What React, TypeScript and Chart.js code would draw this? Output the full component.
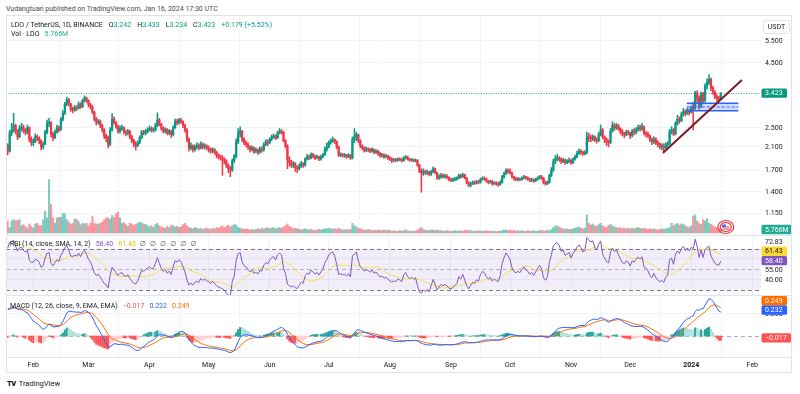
import React, { useEffect, useRef } from 'react';
import { Chart, registerables } from 'chart.js';

Chart.register(...registerables);

const FONT = 'Roboto, "Noto Sans", "DejaVu Sans", sans-serif';
const FS = 7;
const UP = '#089981';
const DOWN = '#F23645';
const GRID = '#f0f3fa';
const TXT = '#131722';

// ---- data (daily candles, day index counted from 2023-02-01) ----
const firstDay = -13; // 2023-01-19
const firstOpen = 2.12;
const lastOpen = 3.242;

const closesJan23 = [2.02, 2.38, 2.45, 2.55, 2.42, 2.30, 2.48, 2.52, 2.44, 2.40, 2.50, 2.25, 2.18];
const closesFeb = [2.20, 2.30, 2.28, 2.22, 2.10, 2.15, 2.40, 2.60, 2.62, 2.35, 2.28, 2.40, 2.50, 2.45, 2.70, 2.85, 3.10, 3.22, 3.10, 2.95, 2.93, 3.00, 2.98, 3.10, 3.02, 3.20, 3.28, 3.20];
const closesMar = [3.08, 3.02, 2.88, 2.70, 2.62, 2.65, 2.55, 2.45, 2.32, 2.28, 2.15, 2.45, 2.70, 2.62, 2.52, 2.42, 2.48, 2.50, 2.40, 2.38, 2.42, 2.30, 2.22, 2.15, 2.12, 2.18, 2.28, 2.40, 2.38, 2.42, 2.45];
const closesApr = [2.48, 2.44, 2.45, 2.55, 2.68, 2.58, 2.48, 2.42, 2.46, 2.38, 2.42, 2.35, 2.50, 2.65, 2.62, 2.68, 2.64, 2.55, 2.45, 2.25, 2.08, 2.12, 2.05, 2.10, 2.12, 2.08, 2.15, 2.10, 2.12, 2.08];
const closesMay = [2.06, 2.02, 2.05, 2.00, 1.95, 1.92, 1.90, 1.88, 1.85, 1.78, 1.72, 1.70, 1.85, 1.92, 2.20, 2.38, 2.42, 2.25, 2.18, 2.15, 2.10, 2.05, 2.08, 2.02, 2.04, 2.00, 2.06, 2.05, 2.15, 2.20, 2.18];
const closesJun = [2.25, 2.30, 2.32, 2.28, 2.38, 2.42, 2.40, 2.22, 2.12, 1.86, 1.82, 1.78, 1.80, 1.74, 1.72, 1.76, 1.80, 1.78, 1.88, 1.92, 1.90, 1.96, 1.93, 1.90, 1.92, 1.88, 1.92, 1.95, 2.05, 2.10];
const closesJul = [2.18, 2.22, 2.24, 2.20, 2.10, 1.95, 1.96, 1.94, 1.95, 1.92, 1.95, 1.90, 2.25, 2.30, 2.35, 2.22, 2.12, 2.08, 2.04, 2.06, 2.05, 2.02, 2.05, 2.00, 2.02, 1.98, 1.94, 1.95, 1.92, 1.93, 1.90];
const closesAug = [1.88, 1.86, 1.87, 1.86, 1.88, 1.87, 1.85, 1.90, 1.92, 1.88, 1.86, 1.87, 1.85, 1.86, 1.78, 1.68, 1.66, 1.68, 1.66, 1.67, 1.64, 1.68, 1.72, 1.66, 1.58, 1.60, 1.62, 1.60, 1.61, 1.59, 1.56];
const closesSep = [1.55, 1.56, 1.57, 1.58, 1.62, 1.60, 1.63, 1.58, 1.52, 1.48, 1.50, 1.52, 1.51, 1.53, 1.52, 1.56, 1.58, 1.57, 1.54, 1.52, 1.53, 1.50, 1.51, 1.50, 1.49, 1.52, 1.60, 1.65, 1.70, 1.68];
const closesOct = [1.66, 1.60, 1.57, 1.56, 1.57, 1.56, 1.58, 1.60, 1.58, 1.57, 1.55, 1.56, 1.54, 1.56, 1.58, 1.60, 1.58, 1.52, 1.50, 1.52, 1.62, 1.70, 1.84, 1.88, 1.90, 1.88, 1.84, 1.86, 1.82, 1.84, 1.86];
const closesNov = [1.82, 1.88, 1.92, 1.98, 2.02, 2.00, 1.97, 1.99, 2.30, 2.28, 2.26, 2.30, 2.24, 2.22, 2.35, 2.45, 2.30, 2.25, 2.20, 2.18, 2.42, 2.55, 2.50, 2.55, 2.48, 2.42, 2.36, 2.34, 2.40, 2.38];
const closesDec = [2.32, 2.42, 2.40, 2.46, 2.50, 2.48, 2.52, 2.38, 2.36, 2.32, 2.24, 2.20, 2.26, 2.18, 2.15, 2.10, 2.12, 2.08, 2.14, 2.16, 2.42, 2.45, 2.36, 2.60, 2.70, 2.66, 2.82, 2.90, 2.84, 2.92, 2.88];
const closesJan24 = [3.00, 2.98, 3.42, 3.28, 3.05, 3.40, 3.20, 3.65, 3.78, 3.88, 3.58, 3.45, 3.32, 3.26, 3.244, 3.423];

const highsJan23 = [2.16, 2.44, 2.60, 2.85, 2.58, 2.46, 2.55, 2.60, 2.56, 2.48, 2.56, 2.52, 2.30];
const highsFeb = [2.26, 2.36, 2.34, 2.30, 2.24, 2.20, 2.44, 2.68, 2.72, 2.64, 2.40, 2.45, 2.56, 2.54, 2.74, 2.92, 3.15, 3.30, 3.26, 3.12, 3.02, 3.06, 3.05, 3.16, 3.14, 3.24, 3.34, 3.30];
const highsMar = [3.22, 3.12, 3.06, 2.90, 2.74, 2.70, 2.68, 2.58, 2.48, 2.36, 2.32, 2.50, 2.84, 2.76, 2.64, 2.56, 2.54, 2.56, 2.52, 2.44, 2.46, 2.44, 2.33, 2.25, 2.20, 2.22, 2.32, 2.44, 2.44, 2.46, 2.50];
const highsApr = [2.54, 2.52, 2.50, 2.60, 2.86, 2.72, 2.60, 2.52, 2.50, 2.48, 2.46, 2.44, 2.54, 2.70, 2.70, 2.72, 2.72, 2.66, 2.58, 2.48, 2.28, 2.18, 2.14, 2.14, 2.18, 2.16, 2.20, 2.18, 2.16, 2.14];
const highsMay = [2.12, 2.08, 2.08, 2.07, 2.02, 1.97, 1.95, 1.94, 1.90, 1.87, 1.80, 1.76, 1.88, 1.96, 2.26, 2.48, 2.52, 2.44, 2.28, 2.22, 2.18, 2.12, 2.12, 2.10, 2.08, 2.06, 2.10, 2.10, 2.18, 2.24, 2.24];
const highsJun = [2.28, 2.34, 2.36, 2.34, 2.42, 2.48, 2.46, 2.42, 2.24, 2.14, 1.92, 1.86, 1.84, 1.82, 1.77, 1.80, 1.84, 1.82, 1.90, 1.96, 1.95, 1.99, 1.98, 1.95, 1.95, 1.93, 1.95, 1.98, 2.10, 2.18];
const highsJul = [2.22, 2.26, 2.30, 2.26, 2.22, 2.12, 1.99, 1.98, 1.98, 1.96, 1.97, 1.96, 2.30, 2.48, 2.40, 2.36, 2.24, 2.14, 2.10, 2.10, 2.08, 2.07, 2.08, 2.06, 2.05, 2.04, 2.00, 1.98, 1.97, 1.96, 1.95];
const highsAug = [1.92, 1.90, 1.89, 1.89, 1.90, 1.90, 1.89, 1.92, 1.94, 1.93, 1.89, 1.89, 1.88, 1.88, 1.87, 1.79, 1.72, 1.72, 1.70, 1.70, 1.68, 1.70, 1.75, 1.73, 1.67, 1.63, 1.65, 1.64, 1.64, 1.63, 1.60];
const highsSep = [1.58, 1.58, 1.59, 1.60, 1.64, 1.64, 1.65, 1.64, 1.59, 1.53, 1.52, 1.54, 1.54, 1.55, 1.55, 1.58, 1.60, 1.60, 1.58, 1.55, 1.55, 1.55, 1.53, 1.53, 1.52, 1.54, 1.62, 1.67, 1.72, 1.72];
const highsOct = [1.72, 1.67, 1.61, 1.59, 1.59, 1.58, 1.60, 1.62, 1.61, 1.60, 1.58, 1.58, 1.57, 1.58, 1.60, 1.62, 1.62, 1.59, 1.54, 1.54, 1.64, 1.74, 1.88, 1.94, 1.96, 1.92, 1.90, 1.89, 1.88, 1.87, 1.90];
const highsNov = [1.88, 1.90, 1.95, 2.02, 2.06, 2.05, 2.02, 2.03, 2.40, 2.38, 2.34, 2.34, 2.32, 2.28, 2.40, 2.56, 2.48, 2.32, 2.28, 2.24, 2.48, 2.64, 2.60, 2.60, 2.58, 2.50, 2.46, 2.40, 2.44, 2.44];
const highsDec = [2.40, 2.46, 2.48, 2.50, 2.56, 2.56, 2.60, 2.54, 2.42, 2.40, 2.34, 2.28, 2.30, 2.28, 2.22, 2.18, 2.16, 2.16, 2.18, 2.20, 2.46, 2.52, 2.48, 2.64, 2.80, 2.76, 2.88, 2.98, 2.94, 2.98, 2.96];
const highsJan24 = [3.05, 3.15, 3.48, 3.50, 3.35, 3.46, 3.45, 3.72, 3.90, 4.05, 3.92, 3.65, 3.50, 3.38, 3.33, 3.433];

const lowsJan23 = [1.95, 2.00, 2.32, 2.40, 2.36, 2.24, 2.28, 2.42, 2.38, 2.34, 2.36, 2.20, 2.12];
const lowsFeb = [2.12, 2.18, 2.22, 2.16, 2.04, 2.06, 2.14, 2.36, 2.52, 2.30, 2.22, 2.26, 2.38, 2.40, 2.44, 2.66, 2.82, 3.05, 3.04, 2.90, 2.86, 2.90, 2.92, 2.96, 2.98, 3.00, 3.16, 3.14];
const lowsMar = [3.02, 2.96, 2.84, 2.66, 2.56, 2.58, 2.50, 2.40, 2.26, 2.20, 2.08, 2.12, 2.42, 2.58, 2.48, 2.38, 2.38, 2.44, 2.36, 2.32, 2.34, 2.26, 2.18, 2.10, 2.04, 2.10, 2.16, 2.26, 2.34, 2.34, 2.38];
const lowsApr = [2.42, 2.40, 2.40, 2.42, 2.52, 2.54, 2.44, 2.38, 2.38, 2.34, 2.34, 2.28, 2.32, 2.48, 2.56, 2.58, 2.60, 2.50, 2.40, 2.20, 2.02, 2.04, 2.00, 2.02, 2.06, 2.04, 2.06, 2.06, 2.06, 2.04];
const lowsMay = [2.00, 1.98, 1.99, 1.96, 1.90, 1.88, 1.86, 1.62, 1.80, 1.74, 1.66, 1.60, 1.68, 1.82, 1.90, 2.16, 2.30, 2.20, 2.14, 2.10, 2.05, 2.00, 2.02, 1.98, 1.99, 1.96, 1.98, 2.00, 2.02, 2.12, 2.12];
const lowsJun = [2.16, 2.22, 2.27, 2.24, 2.26, 2.36, 2.36, 2.20, 2.08, 1.72, 1.76, 1.74, 1.74, 1.68, 1.66, 1.70, 1.74, 1.74, 1.76, 1.86, 1.87, 1.88, 1.90, 1.87, 1.88, 1.85, 1.86, 1.90, 1.94, 2.02];
const lowsJul = [2.08, 2.15, 2.19, 2.16, 2.06, 1.92, 1.92, 1.91, 1.91, 1.89, 1.90, 1.87, 1.88, 2.18, 2.22, 2.18, 2.08, 2.04, 2.00, 2.01, 2.01, 1.99, 2.00, 1.97, 1.98, 1.94, 1.91, 1.91, 1.89, 1.90, 1.87];
const lowsAug = [1.85, 1.82, 1.84, 1.83, 1.84, 1.85, 1.83, 1.84, 1.88, 1.86, 1.84, 1.84, 1.83, 1.83, 1.76, 1.66, 1.39, 1.62, 1.63, 1.63, 1.61, 1.62, 1.66, 1.64, 1.56, 1.56, 1.58, 1.58, 1.58, 1.57, 1.54];
const lowsSep = [1.53, 1.53, 1.54, 1.55, 1.57, 1.58, 1.59, 1.57, 1.50, 1.46, 1.46, 1.49, 1.49, 1.50, 1.50, 1.51, 1.55, 1.55, 1.52, 1.50, 1.51, 1.48, 1.49, 1.48, 1.47, 1.48, 1.51, 1.58, 1.63, 1.65];
const lowsOct = [1.64, 1.58, 1.55, 1.54, 1.54, 1.54, 1.55, 1.57, 1.56, 1.55, 1.53, 1.53, 1.52, 1.53, 1.55, 1.57, 1.56, 1.50, 1.48, 1.49, 1.51, 1.60, 1.68, 1.80, 1.85, 1.84, 1.80, 1.82, 1.79, 1.80, 1.82];
const lowsNov = [1.79, 1.80, 1.86, 1.90, 1.96, 1.96, 1.94, 1.95, 1.97, 2.20, 2.20, 2.22, 2.20, 2.17, 2.20, 2.32, 2.26, 2.18, 2.12, 2.10, 2.16, 2.40, 2.44, 2.46, 2.44, 2.36, 2.32, 2.28, 2.32, 2.34];
const lowsDec = [2.26, 2.30, 2.34, 2.36, 2.42, 2.42, 2.44, 2.34, 2.30, 2.28, 2.20, 2.14, 2.16, 2.14, 2.10, 2.06, 2.04, 2.00, 2.05, 2.10, 2.14, 2.36, 2.32, 2.34, 2.56, 2.60, 2.64, 2.78, 2.78, 2.82, 2.80];
const lowsJan24 = [2.85, 2.45, 2.95, 3.15, 2.95, 3.00, 3.10, 3.15, 3.55, 3.70, 3.50, 3.38, 3.25, 3.18, 3.20, 3.234];

// volume in millions of LDO
const volJan23 = [20, 9, 20, 22, 20, 21, 22, 12, 14, 11, 8, 15, 11];
const volFeb = [8, 15, 16, 12, 12, 22, 36, 25, 88, 47, 25, 16, 25, 26, 26, 32, 32, 22, 18, 15, 16, 23, 23, 19, 14, 16, 15, 16];
const volMar = [12, 16, 28, 16, 15, 15, 16, 18, 22, 25, 25, 23, 29, 26, 32, 34, 25, 16, 17, 14, 11, 16, 15, 13, 14, 16, 18, 17, 15, 14, 12];
const volApr = [10, 12, 9, 14, 16, 12, 10, 9, 8, 11, 9, 13, 12, 10, 11, 9, 10, 14, 16, 12, 9, 8, 7, 9, 8, 7, 8, 6, 7, 8];
const volMay = [7, 6, 8, 7, 9, 8, 10, 12, 9, 11, 13, 10, 12, 14, 13, 9, 8, 7, 6, 7, 6, 5, 6, 5, 6, 7, 6, 8, 7, 8, 9];
const volJun = [7, 8, 9, 7, 8, 9, 8, 10, 12, 15, 11, 9, 7, 8, 7, 6, 5, 6, 7, 6, 5, 6, 5, 4, 5, 6, 5, 6, 7, 7];
const volJul = [8, 7, 6, 7, 6, 8, 6, 5, 5, 6, 5, 6, 16, 12, 10, 8, 7, 6, 5, 5, 6, 5, 4, 5, 4, 5, 5, 4, 5, 4, 5];
const volAug = [4, 3, 4, 3, 3, 4, 3, 4, 5, 4, 3, 3, 3, 3, 5, 7, 9, 6, 5, 4, 4, 5, 5, 4, 5, 4, 4, 3, 3, 4, 3];
const volSep = [3, 3, 4, 3, 3, 4, 3, 4, 5, 4, 4, 3, 3, 3, 4, 3, 3, 3, 4, 3, 3, 3, 3, 2, 3, 3, 4, 5, 5, 4];
const volOct = [5, 4, 4, 3, 4, 3, 4, 3, 3, 4, 3, 3, 4, 3, 3, 4, 4, 4, 3, 5, 4, 6, 9, 12, 11, 10, 8, 7, 6, 7, 6];
const volNov = [6, 7, 8, 9, 10, 8, 7, 8, 30, 16, 13, 15, 12, 11, 14, 16, 12, 10, 9, 13, 14, 12, 10, 9, 8, 9, 7, 8, 7, 8];
const volDec = [7, 8, 7, 8, 9, 8, 7, 8, 7, 6, 7, 6, 7, 6, 5, 6, 7, 6, 7, 8, 9, 16, 12, 14, 16, 13, 15, 14, 12, 10, 9];
const volJan24 = [12, 28, 30, 20, 16, 14, 22, 20, 24, 16, 14, 12, 10, 9, 8, 5.766];

const closes = [...closesJan23, ...closesFeb, ...closesMar, ...closesApr, ...closesMay, ...closesJun, ...closesJul, ...closesAug, ...closesSep, ...closesOct, ...closesNov, ...closesDec, ...closesJan24];
const highs = [...highsJan23, ...highsFeb, ...highsMar, ...highsApr, ...highsMay, ...highsJun, ...highsJul, ...highsAug, ...highsSep, ...highsOct, ...highsNov, ...highsDec, ...highsJan24];
const lows = [...lowsJan23, ...lowsFeb, ...lowsMar, ...lowsApr, ...lowsMay, ...lowsJun, ...lowsJul, ...lowsAug, ...lowsSep, ...lowsOct, ...lowsNov, ...lowsDec, ...lowsJan24];
const volumes = [...volJan23, ...volFeb, ...volMar, ...volApr, ...volMay, ...volJun, ...volJul, ...volAug, ...volSep, ...volOct, ...volNov, ...volDec, ...volJan24];

const monthTickDays = [0, 28, 59, 89, 120, 150, 181, 212, 242, 273, 303, 334, 365];
const monthTickLabels = ['Feb', 'Mar', 'Apr', 'May', 'Jun', 'Jul', 'Aug', 'Sep', 'Oct', 'Nov', 'Dec', '2024', 'Feb'];
const priceTicks = [5.5, 4.5, 2.5, 2.1, 1.7, 1.4, 1.15];
const rsiTickValues = [72.83, 55, 40];
const rsiGridValues = [60, 40];
const macdTickValues = [0.2];

// indicator values shown in the legends / scale labels
const rsiLast = 58.4;
const rsiMaLast = 61.43;
const macdLast = 0.232;
const signalLast = 0.249;
const histLast = -0.017;

// indicator warm-up state before the first visible candle
const rsiSeed = { prevClose: 2.12, avgGain: 0.09, avgLoss: 0.03, maHistory: 75 };
const macdSeed = { ema12: 2.1, ema26: 1.84, signal: 0.25 };

// drawings (day index, price)
const trendLine = [{ x: 319.6, y: 1.986 }, { x: 359.7, y: 3.855 }];
const zoneBox = { x0: 331.7, x1: 357.9, top: 3.12, bottom: 2.916 };
const eventDay = 351.5;

const X_MIN = -13.86;
const X_MAX = 369.4;

// ---- derived ----
const days = closes.map((_, i) => firstDay + i);
const opens = closes.map((c, i) => (i === 0 ? firstOpen : i === closes.length - 1 ? lastOpen : closes[i - 1]));

function indicators() {
  const n = closes.length;
  const rsi: number[] = [];
  let ag = rsiSeed.avgGain;
  let al = rsiSeed.avgLoss;
  for (let i = 0; i < n; i++) {
    const prev = i === 0 ? rsiSeed.prevClose : closes[i - 1];
    const ch = closes[i] - prev;
    ag = (ag * 13 + Math.max(ch, 0)) / 14;
    al = (al * 13 + Math.max(-ch, 0)) / 14;
    rsi.push(al === 0 ? 100 : 100 - 100 / (1 + ag / al));
  }
  const rsiMa = rsi.map((_, i) => {
    let s = 0;
    for (let k = i - 13; k <= i; k++) s += k < 0 ? rsiSeed.maHistory : rsi[k];
    return s / 14;
  });
  let e12 = macdSeed.ema12;
  let e26 = macdSeed.ema26;
  let sig = macdSeed.signal;
  const macd: number[] = [];
  const signal: number[] = [];
  const hist: number[] = [];
  for (let i = 0; i < n; i++) {
    e12 += (2 / 13) * (closes[i] - e12);
    e26 += (2 / 27) * (closes[i] - e26);
    const m = e12 - e26;
    sig += (2 / 10) * (m - sig);
    macd.push(m);
    signal.push(sig);
    hist.push(m - sig);
  }
  return { rsi, rsiMa, macd, signal, hist };
}

type AxisItem = { scale: string; value: number; text: string; bg?: string; fg?: string; push: boolean };

function makeAxisPlugin(items: AxisItem[]) {
  return {
    id: 'axisLabels',
    afterDraw(chart: any) {
      const ctx = chart.ctx;
      const right = chart.chartArea.right;
      const H = 9.4;
      ctx.save();
      ctx.font = `${FS}px ${FONT}`;
      ctx.textBaseline = 'middle';
      ctx.textAlign = 'left';
      const placed: { y: number; it: AxisItem }[] = [];
      for (const it of items) {
        const desired = chart.scales[it.scale].getPixelForValue(it.value);
        let y = desired;
        if (it.push) {
          for (let iter = 0; iter < 8; iter++) {
            let moved = false;
            for (const p of placed) {
              if (!p.it.push && !p.it.bg) continue;
              if (Math.abs(y - p.y) < H - 0.01) {
                y = desired < p.y ? p.y - H : p.y + H;
                moved = true;
              }
            }
            if (!moved) break;
          }
        }
        placed.push({ y, it });
      }
      const ordered = [...placed.filter((p) => !p.it.bg), ...placed.filter((p) => p.it.bg)];
      for (const p of ordered) {
        const w = ctx.measureText(p.it.text).width;
        if (p.it.bg) {
          ctx.fillStyle = p.it.bg;
          ctx.beginPath();
          if (ctx.roundRect) ctx.roundRect(right + 0.5, p.y - 4.7, w + 8, 9.4, 1.5);
          else ctx.rect(right + 0.5, p.y - 4.7, w + 8, 9.4);
          ctx.fill();
        }
        ctx.fillStyle = p.it.fg || TXT;
        ctx.fillText(p.it.text, right + 4, p.y + 0.5);
      }
      ctx.restore();
    },
  };
}

const xScaleHidden = {
  type: 'linear',
  min: X_MIN,
  max: X_MAX,
  offset: false,
  grid: { color: GRID, drawTicks: false, lineWidth: 1 },
  border: { display: false },
  ticks: { display: false },
  afterBuildTicks: (s: any) => {
    s.ticks = monthTickDays.map((v) => ({ value: v }));
  },
  afterFit: (s: any) => {
    s.height = 0;
  },
};

export default function App() {
  const priceRef = useRef<HTMLCanvasElement>(null);
  const rsiRef = useRef<HTMLCanvasElement>(null);
  const macdRef = useRef<HTMLCanvasElement>(null);

  useEffect(() => {
    document.body.style.margin = '0';
    const ind = indicators();
    const n = closes.length;
    const candleColors = closes.map((c, i) => (c >= opens[i] ? UP : DOWN));
    const volColors = closes.map((c, i) => (c >= opens[i] ? 'rgba(8,153,129,0.5)' : 'rgba(242,54,69,0.5)'));

    const bodyData = days.map((d, i) => {
      let lo = Math.min(opens[i], closes[i]);
      let hi = Math.max(opens[i], closes[i]);
      if (hi / lo < 1.004) hi = lo * 1.004;
      return { x: d, y: [lo, hi] };
    });
    const wickData = days.map((d, i) => ({
      x: d,
      y: [Math.min(lows[i], opens[i], closes[i]), Math.max(highs[i], opens[i], closes[i])],
    }));
    const volData = days.map((d, i) => ({ x: d, y: volumes[i] }));

    const lastClose = closes[n - 1];

    const priceDecor = {
      id: 'priceDecor',
      beforeDatasetsDraw(chart: any) {
        const { ctx, chartArea } = chart;
        const y = chart.scales.y.getPixelForValue(lastClose);
        ctx.save();
        ctx.strokeStyle = 'rgba(8,153,129,0.85)';
        ctx.lineWidth = 1;
        ctx.setLineDash([1, 1.5]);
        ctx.beginPath();
        ctx.moveTo(chartArea.left, Math.round(y) + 0.5);
        ctx.lineTo(chartArea.right, Math.round(y) + 0.5);
        ctx.stroke();
        ctx.restore();
      },
      afterDatasetsDraw(chart: any) {
        const { ctx, chartArea } = chart;
        const xs = chart.scales.x;
        const ys = chart.scales.y;
        ctx.save();
        // zone rectangle
        const x0 = xs.getPixelForValue(zoneBox.x0);
        const x1 = xs.getPixelForValue(zoneBox.x1);
        const yt = ys.getPixelForValue(zoneBox.top);
        const yb = ys.getPixelForValue(zoneBox.bottom);
        ctx.fillStyle = 'rgba(41,98,255,0.22)';
        ctx.fillRect(x0, yt, x1 - x0, yb - yt);
        ctx.strokeStyle = '#2962FF';
        ctx.lineWidth = 1.5;
        ctx.beginPath();
        ctx.moveTo(x0, yt);
        ctx.lineTo(x1, yt);
        ctx.moveTo(x0, yb);
        ctx.lineTo(x1, yb);
        ctx.stroke();
        ctx.lineWidth = 1;
        ctx.setLineDash([3, 2]);
        ctx.beginPath();
        ctx.moveTo(x0, (yt + yb) / 2);
        ctx.lineTo(x1, (yt + yb) / 2);
        ctx.stroke();
        ctx.setLineDash([]);
        // trend line
        ctx.strokeStyle = '#7a1a24';
        ctx.lineWidth = 2;
        ctx.beginPath();
        ctx.moveTo(xs.getPixelForValue(trendLine[0].x), ys.getPixelForValue(trendLine[0].y));
        ctx.lineTo(xs.getPixelForValue(trendLine[1].x), ys.getPixelForValue(trendLine[1].y));
        ctx.stroke();
        // economic event marker
        const ex = xs.getPixelForValue(eventDay);
        const ey = chartArea.bottom - 8;
        ctx.strokeStyle = DOWN;
        ctx.lineWidth = 1.2;
        ctx.beginPath();
        ctx.ellipse(ex, ey, 8, 6.5, 0, 0, Math.PI * 2);
        ctx.stroke();
        ctx.beginPath();
        ctx.ellipse(ex, ey, 5.5, 4.5, 0, 0, Math.PI * 2);
        ctx.stroke();
        ctx.fillStyle = '#ffffff';
        ctx.fillRect(ex - 3.5, ey - 2.5, 7, 5);
        ctx.fillStyle = DOWN;
        ctx.fillRect(ex - 3.5, ey - 0.5, 7, 1);
        ctx.fillRect(ex - 3.5, ey + 1.5, 7, 1);
        ctx.fillStyle = '#2962FF';
        ctx.fillRect(ex - 3.5, ey - 2.5, 3.5, 2.5);
        ctx.restore();
      },
      afterDraw(chart: any) {
        const { ctx, chartArea } = chart;
        const r = chartArea.right;
        ctx.save();
        ctx.strokeStyle = '#e0e3eb';
        ctx.lineWidth = 1;
        ctx.beginPath();
        if (ctx.roundRect) ctx.roundRect(r + 2.5, 5.5, 26, 13, 2);
        else ctx.rect(r + 2.5, 5.5, 26, 13);
        ctx.fillStyle = '#ffffff';
        ctx.fill();
        ctx.stroke();
        ctx.fillStyle = TXT;
        ctx.font = `${FS}px ${FONT}`;
        ctx.textAlign = 'center';
        ctx.textBaseline = 'middle';
        ctx.fillText('USDT', r + 15.5, 12.5);
        ctx.restore();
      },
    };

    const priceItems: AxisItem[] = [
      { scale: 'y', value: lastClose, text: lastClose.toFixed(3), bg: UP, fg: '#ffffff', push: false },
      { scale: 'yv', value: volumes[n - 1], text: volumes[n - 1].toFixed(3) + 'M', bg: '#22ab94', fg: '#ffffff', push: false },
      ...priceTicks.map((v) => ({ scale: 'y', value: v, text: v.toFixed(3), push: false })),
    ];

    const price = new Chart(priceRef.current as HTMLCanvasElement, {
      type: 'bar',
      data: {
        datasets: [
          { type: 'bar', data: bodyData, backgroundColor: candleColors, barThickness: 1.6, grouped: false, order: 0, yAxisID: 'y', borderWidth: 0 } as any,
          { type: 'bar', data: wickData, backgroundColor: candleColors, barThickness: 0.9, grouped: false, order: 1, yAxisID: 'y', borderWidth: 0 } as any,
          { type: 'bar', data: volData, backgroundColor: volColors, barThickness: 1.5, grouped: false, order: 2, yAxisID: 'yv', borderWidth: 0 } as any,
        ],
      },
      options: {
        responsive: false,
        animation: false,
        events: [],
        layout: { padding: 0 },
        plugins: { legend: { display: false }, tooltip: { enabled: false } },
        scales: {
          x: xScaleHidden as any,
          y: {
            type: 'logarithmic',
            position: 'right',
            min: 0.942,
            max: 6.962,
            grid: { color: GRID, drawTicks: false },
            border: { display: false },
            ticks: { display: false },
            afterBuildTicks: (s: any) => {
              s.ticks = priceTicks.map((v) => ({ value: v }));
            },
            afterFit: (s: any) => {
              s.width = 31;
            },
          } as any,
          yv: { type: 'linear', display: false, min: -3.3, max: 360 } as any,
        },
      },
      plugins: [priceDecor, makeAxisPlugin(priceItems)],
    });

    const rsiDecor = {
      id: 'rsiDecor',
      beforeDatasetsDraw(chart: any) {
        const { ctx, chartArea } = chart;
        const ys = chart.scales.y;
        const y70 = ys.getPixelForValue(70);
        const y50 = ys.getPixelForValue(50);
        const y30 = ys.getPixelForValue(30);
        ctx.save();
        ctx.fillStyle = 'rgba(126,87,194,0.1)';
        ctx.fillRect(chartArea.left, y70, chartArea.right - chartArea.left, y30 - y70);
        ctx.setLineDash([4, 3]);
        ctx.lineWidth = 1;
        ctx.strokeStyle = '#787B86';
        for (const y of [y70, y30]) {
          ctx.beginPath();
          ctx.moveTo(chartArea.left, Math.round(y) + 0.5);
          ctx.lineTo(chartArea.right, Math.round(y) + 0.5);
          ctx.stroke();
        }
        ctx.strokeStyle = 'rgba(120,123,134,0.5)';
        ctx.beginPath();
        ctx.moveTo(chartArea.left, Math.round(y50) + 0.5);
        ctx.lineTo(chartArea.right, Math.round(y50) + 0.5);
        ctx.stroke();
        ctx.restore();
      },
    };

    const rsiItems: AxisItem[] = [
      { scale: 'y', value: rsiLast, text: rsiLast.toFixed(2), bg: '#7E57C2', fg: '#ffffff', push: false },
      { scale: 'y', value: rsiMaLast, text: rsiMaLast.toFixed(2), bg: '#FDD835', fg: TXT, push: true },
      ...rsiTickValues.map((v) => ({ scale: 'y', value: v, text: v.toFixed(2), push: true })),
    ];

    const rsi = new Chart(rsiRef.current as HTMLCanvasElement, {
      type: 'line',
      data: {
        datasets: [
          { data: days.map((d, i) => ({ x: d, y: ind.rsi[i] })), borderColor: '#7E57C2', borderWidth: 1, pointRadius: 0, tension: 0, order: 0 },
          { data: days.map((d, i) => ({ x: d, y: ind.rsiMa[i] })), borderColor: '#F5DF4D', borderWidth: 1, pointRadius: 0, tension: 0, order: 1 },
        ],
      },
      options: {
        responsive: false,
        animation: false,
        events: [],
        layout: { padding: 0 },
        plugins: { legend: { display: false }, tooltip: { enabled: false } },
        scales: {
          x: xScaleHidden as any,
          y: {
            type: 'linear',
            position: 'right',
            min: 24.83,
            max: 83.37,
            grid: { color: GRID, drawTicks: false },
            border: { display: false },
            ticks: { display: false },
            afterBuildTicks: (s: any) => {
              s.ticks = rsiGridValues.map((v) => ({ value: v }));
            },
            afterFit: (s: any) => {
              s.width = 31;
            },
          } as any,
        },
      },
      plugins: [rsiDecor, makeAxisPlugin(rsiItems)],
    });

    const histColors = ind.hist.map((h, i) => {
      const prev = i === 0 ? macdSeed.ema12 - macdSeed.ema26 - macdSeed.signal : ind.hist[i - 1];
      if (h >= 0) return h > prev ? '#26A69A' : '#B2DFDB';
      return h < prev ? '#FF5252' : '#FFCDD2';
    });

    const macdDecor = {
      id: 'macdDecor',
      beforeDatasetsDraw(chart: any) {
        const { ctx, chartArea } = chart;
        const y0 = chart.scales.y.getPixelForValue(0);
        ctx.save();
        ctx.setLineDash([4, 3]);
        ctx.strokeStyle = 'rgba(120,123,134,0.6)';
        ctx.lineWidth = 1;
        ctx.beginPath();
        ctx.moveTo(chartArea.left, Math.round(y0) + 0.5);
        ctx.lineTo(chartArea.right, Math.round(y0) + 0.5);
        ctx.stroke();
        ctx.restore();
      },
    };

    const macdItems: AxisItem[] = [
      ...macdTickValues.map((v) => ({ scale: 'y', value: v, text: v.toFixed(3), push: false })),
      { scale: 'y', value: histLast, text: '\u2212' + Math.abs(histLast).toFixed(3), bg: '#FF5252', fg: '#ffffff', push: false },
      { scale: 'y', value: macdLast, text: macdLast.toFixed(3), bg: '#2962FF', fg: '#ffffff', push: false },
      { scale: 'y', value: signalLast, text: signalLast.toFixed(3), bg: '#FF6D00', fg: '#ffffff', push: true },
    ];

    const macd = new Chart(macdRef.current as HTMLCanvasElement, {
      type: 'bar',
      data: {
        datasets: [
          { type: 'line', data: days.map((d, i) => ({ x: d, y: ind.macd[i] })), borderColor: '#2962FF', borderWidth: 1, pointRadius: 0, tension: 0, order: 0 } as any,
          { type: 'line', data: days.map((d, i) => ({ x: d, y: ind.signal[i] })), borderColor: '#FF6D00', borderWidth: 1, pointRadius: 0, tension: 0, order: 1 } as any,
          { type: 'bar', data: days.map((d, i) => ({ x: d, y: ind.hist[i] })), backgroundColor: histColors, barThickness: 1.5, grouped: false, order: 2, borderWidth: 0 } as any,
        ],
      },
      options: {
        responsive: false,
        animation: false,
        events: [],
        layout: { padding: 0 },
        plugins: { legend: { display: false }, tooltip: { enabled: false } },
        scales: {
          x: {
            type: 'linear',
            min: X_MIN,
            max: X_MAX,
            offset: false,
            grid: { color: GRID, drawTicks: false },
            border: { display: false },
            ticks: {
              autoSkip: false,
              maxRotation: 0,
              padding: 4,
              color: TXT,
              font: (c: any) => ({ family: FONT, size: FS, weight: c.tick && c.tick.value === 334 ? 'bold' : 'normal' }),
              callback: (v: any) => {
                const k = monthTickDays.indexOf(Number(v));
                return k >= 0 ? monthTickLabels[k] : '';
              },
            },
            afterBuildTicks: (s: any) => {
              s.ticks = monthTickDays.map((v) => ({ value: v }));
            },
            afterFit: (s: any) => {
              s.height = 16;
            },
          } as any,
          y: {
            type: 'linear',
            position: 'right',
            min: -0.1875,
            max: 0.366,
            grid: { color: GRID, drawTicks: false },
            border: { display: false },
            ticks: { display: false },
            afterBuildTicks: (s: any) => {
              s.ticks = macdTickValues.map((v) => ({ value: v }));
            },
            afterFit: (s: any) => {
              s.width = 31;
            },
          } as any,
        },
      },
      plugins: [macdDecor, makeAxisPlugin(macdItems)],
    });

    return () => {
      price.destroy();
      rsi.destroy();
      macd.destroy();
    };
  }, []);

  const n = closes.length;
  const o = opens[n - 1];
  const h = highs[n - 1];
  const l = lows[n - 1];
  const c = closes[n - 1];
  const ch = c - closes[n - 2];
  const pct = (ch / closes[n - 2]) * 100;

  const base: React.CSSProperties = { position: 'absolute', fontFamily: FONT, fontSize: FS, lineHeight: '9px', whiteSpace: 'nowrap', color: TXT };
  const g: React.CSSProperties = { color: UP };
  const line = (top: number, left: number, width: number, height: number): React.CSSProperties => ({
    position: 'absolute', top, left, width, height, background: '#e0e3eb',
  });
  const gap = 6;

  return (
    <div style={{ position: 'relative', width: 800, height: 394, background: '#ffffff', overflow: 'hidden' }}>
      <div style={{ ...base, left: 6, top: 4.5, color: '#4a4a4a' }}>
        Vudangtuan published on TradingView.com, Jan 16, 2024 17:30 UTC
      </div>
      <canvas ref={priceRef} width={786} height={220} style={{ position: 'absolute', left: 6, top: 15 }} />
      <canvas ref={rsiRef} width={786} height={60} style={{ position: 'absolute', left: 6, top: 235 }} />
      <canvas ref={macdRef} width={786} height={78} style={{ position: 'absolute', left: 6, top: 295 }} />

      <div style={line(15, 6, 786, 1)} />
      <div style={line(15, 6, 1, 357)} />
      <div style={line(15, 791, 1, 357)} />
      <div style={line(235, 6, 786, 1)} />
      <div style={line(295, 6, 786, 1)} />
      <div style={line(357, 6, 786, 1)} />
      <div style={line(372, 6, 786, 1)} />

      <div style={{ ...base, left: 11, top: 20.5 }}>
        <span>LDO / TetherUS, 1D, BINANCE</span>
        <span style={{ marginLeft: gap }}>O</span><span style={g}>{o.toFixed(3)}</span>
        <span style={{ marginLeft: gap }}>H</span><span style={g}>{h.toFixed(3)}</span>
        <span style={{ marginLeft: gap }}>L</span><span style={g}>{l.toFixed(3)}</span>
        <span style={{ marginLeft: gap }}>C</span><span style={g}>{c.toFixed(3)}</span>
        <span style={{ ...g, marginLeft: gap }}>{(ch >= 0 ? '+' : '') + ch.toFixed(3)} ({(pct >= 0 ? '+' : '') + pct.toFixed(2)}%)</span>
      </div>
      <div style={{ ...base, left: 11, top: 29.5 }}>
        <span>Vol · LDO</span>
        <span style={{ color: '#22ab94', marginLeft: 5 }}>{volumes[n - 1].toFixed(3)}M</span>
      </div>

      <div style={{ ...base, left: 10, top: 239.5 }}>
        <span>RSI (14, close, SMA, 14, 2)</span>
        <span style={{ color: '#7E57C2', marginLeft: 5 }}>{rsiLast.toFixed(2)}</span>
        <span style={{ color: '#E0BE00', marginLeft: 5 }}>{rsiMaLast.toFixed(2)}</span>
        {['∅', '∅', '∅', '∅', '∅', '∅'].map((s, i) => (
          <span key={i} style={{ color: '#555', marginLeft: 4 }}>{s}</span>
        ))}
      </div>
      <div style={{ ...base, left: 10, top: 301.5 }}>
        <span>MACD (12, 26, close, 9, EMA, EMA)</span>
        <span style={{ color: '#FF5252', marginLeft: 5 }}>{'\u2212' + Math.abs(histLast).toFixed(3)}</span>
        <span style={{ color: '#2962FF', marginLeft: 5 }}>{macdLast.toFixed(3)}</span>
        <span style={{ color: '#FF6D00', marginLeft: 5 }}>{signalLast.toFixed(3)}</span>
      </div>

      <div style={{ ...base, left: 7, top: 378.5, fontSize: 7.5 }}>
        <span style={{ fontWeight: 900, letterSpacing: -0.5 }}>TV</span>
        <span style={{ marginLeft: 3 }}>TradingView</span>
      </div>
    </div>
  );
}
